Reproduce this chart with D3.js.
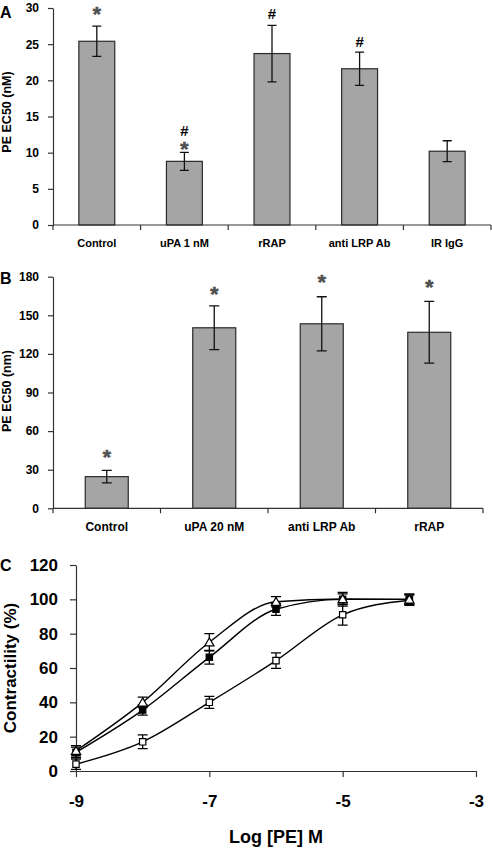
<!DOCTYPE html>
<html><head><meta charset="utf-8">
<script src="https://cdn.jsdelivr.net/npm/d3@7"></script>
<style>
body{margin:0;background:#fff;}
svg{display:block;}
text{font-family:"Liberation Sans",Arial,sans-serif;font-weight:bold;fill:#000;}
</style></head><body>
<svg id="c" width="492" height="848"></svg>
<script>
// Panel A
const catsA = ["Control","uPA 1 nM","rRAP","anti LRP Ab","IR IgG"];
const valsA = [25.4, 8.8, 23.7, 21.6, 10.2];
const errA  = [2.1, 1.25, 3.9, 2.3, 1.45];
const annA  = [[{t:"*",v:30.0}],[{t:"#",v:13.0},{t:"*",v:11.2}],[{t:"#",v:29.3}],[{t:"#",v:25.4}],[]];
const ticksA = [0,5,10,15,20,25,30];
// Panel B
const catsB = ["Control","uPA 20 nM","anti LRP Ab","rRAP"];
const valsB = [24.6, 140.3, 143.4, 136.8];
const errB  = [4.9, 17, 21, 24];
const annB  = [[{t:"*",v:44.5}],[{t:"*",v:171}],[{t:"*",v:180}],[{t:"*",v:176}]];
const ticksB = [0,30,60,90,120,150,180];
// Panel C
const logPE = [-9,-8,-7,-6,-5,-4];
const triVals = [11.8, 40, 75, 98.6, 100.2, 100];
const triErr  = [3, 3, 5, 3, 3, 3];
const fsqVals = [10.9, 35.5, 66.2, 94.2, 100, 100];
const fsqErr  = [3, 3, 4, 3.5, 4, 3];
const osqVals = [4, 17, 40, 64.3, 91, 99.5];
const osqErr  = [3, 4, 3.5, 4.5, 6, 3];
const ticksCx = [-9,-7,-5,-3];
const ticksCy = [0,20,40,60,80,100,120];

const svg = d3.select("#c");
const axisCol = "#333";

function barPanel(o){
  const g = svg.append("g");
  const x = d3.scaleBand().domain(o.cats).range([o.x0,o.x1]).paddingInner(0).paddingOuter(0);
  const y = d3.scaleLinear().domain([0,o.max]).range([o.yb,o.yt]);
  const bw = x.bandwidth()*o.bwFrac;
  g.selectAll("rect.bar").data(o.cats).join("rect")
    .attr("x",d=>x(d)+(x.bandwidth()-bw)/2).attr("width",bw)
    .attr("y",(d,i)=>y(o.vals[i])).attr("height",(d,i)=>y(0)-y(o.vals[i]))
    .attr("fill","#a5a5a5").attr("stroke","#2a2a2a").attr("stroke-width",1.2);
  o.cats.forEach((c,i)=>{
    const cx = x(c)+x.bandwidth()/2;
    const t = y(o.vals[i]+o.errs[i]), b = y(o.vals[i]-o.errs[i]);
    const cw = o.cap;
    g.append("path").attr("d",`M${cx},${t}V${b}M${cx-cw},${t}H${cx+cw}M${cx-cw},${b}H${cx+cw}`)
      .attr("stroke","#111").attr("stroke-width",1.3).attr("fill","none");
    o.ann[i].forEach(a=>{
      const isStar = a.t==="*";
      g.append("text").attr("x",cx).attr("y",y(a.v)+(isStar?o.starDy:0))
        .attr("text-anchor","middle").attr("dominant-baseline","central")
        .style("font-size",isStar?o.starSize+"px":o.hashSize+"px")
        .style("fill",isStar?"#505050":"#000")
        .style("stroke",isStar?"#505050":"none").style("stroke-width",isStar?0.6:0)
        .text(a.t);
    });
  });
  const ya = g.append("g").attr("transform",`translate(${o.x0},0)`)
    .call(d3.axisLeft(y).tickValues(o.ticks).tickSize(5).tickPadding(o.tickPad).tickSizeOuter(0));
  ya.select(".domain").attr("stroke",axisCol).attr("stroke-width",1.2);
  ya.selectAll(".tick line").attr("stroke",axisCol).attr("stroke-width",1.2);
  ya.selectAll(".tick text").style("font-size",o.tickFs+"px").style("font-family","Liberation Sans, Arial, sans-serif").style("font-weight","bold").attr("fill","#000");
  g.append("line").attr("x1",o.x0).attr("x2",o.x1).attr("y1",y(0)).attr("y2",y(0)).attr("stroke",axisCol).attr("stroke-width",1.2);
  const bounds = o.cats.map(c=>x(c)).concat([o.x1]);
  g.selectAll("line.bt").data(bounds).join("line").attr("x1",d=>d).attr("x2",d=>d)
    .attr("y1",y(0)).attr("y2",y(0)+5).attr("stroke",axisCol).attr("stroke-width",1.2);
  g.selectAll("text.cat").data(o.cats).join("text")
    .attr("x",d=>x(d)+x.bandwidth()/2).attr("y",o.catY)
    .attr("text-anchor","middle").attr("dominant-baseline","central")
    .style("font-size",o.catFs+"px").text(d=>d);
  g.append("text").attr("transform",`translate(${o.ylx},${o.yly}) rotate(-90)`)
    .attr("text-anchor","middle").attr("dominant-baseline","central")
    .style("font-size",o.ylFs+"px").text(o.ylabel);
  g.append("text").attr("x",0).attr("y",o.letterY).attr("dominant-baseline","central")
    .style("font-size","16px").text(o.letter);
}

barPanel({cats:catsA, vals:valsA, errs:errA, ann:annA, ticks:ticksA, max:30,
  x0:53, x1:491, yb:225, yt:8, bwFrac:0.41, cap:4.5, starSize:21, starDy:5, hashSize:15,
  tickFs:12, tickPad:9, catFs:11, catY:243, ylx:7, yly:112, ylFs:12.5, ylabel:"PE EC50 (nM)",
  letter:"A", letterY:12});

barPanel({cats:catsB, vals:valsB, errs:errB, ann:annB, ticks:ticksB, max:180,
  x0:53, x1:483, yb:508.3, yt:276.7, bwFrac:0.40, cap:5, starSize:21, starDy:5, hashSize:15,
  tickFs:12, tickPad:9, catFs:12, catY:527, ylx:7, yly:391, ylFs:12.5, ylabel:"PE EC50 (nm)",
  letter:"B", letterY:278});

// Panel C
(function(){
  const g = svg.append("g");
  const x = d3.scaleLinear().domain([-9,-3]).range([76,476]);
  const y = d3.scaleLinear().domain([0,120]).range([771,565]);
  const ya = g.append("g").attr("transform","translate(76,0)")
    .call(d3.axisLeft(y).tickValues(ticksCy).tickSize(6).tickPadding(12).tickSizeOuter(0));
  ya.select(".domain").attr("stroke",axisCol).attr("stroke-width",1.2);
  ya.selectAll(".tick line").attr("stroke",axisCol).attr("stroke-width",1.2);
  ya.selectAll(".tick text").style("font-size","17px").style("font-family","Liberation Sans, Arial, sans-serif").style("font-weight","bold").attr("fill","#000");
  const xa = g.append("g").attr("transform","translate(0,771)")
    .call(d3.axisBottom(x).tickValues(ticksCx).tickSize(6).tickPadding(18).tickSizeOuter(0).tickFormat(d=>String(d)));
  xa.select(".domain").attr("stroke",axisCol).attr("stroke-width",1.2);
  xa.selectAll(".tick line").attr("stroke",axisCol).attr("stroke-width",1.2);
  xa.selectAll(".tick text").style("font-size","17px").style("font-family","Liberation Sans, Arial, sans-serif").style("font-weight","bold").attr("fill","#000");

  const series = [
    {vals:osqVals, errs:osqErr, type:"osq"},
    {vals:fsqVals, errs:fsqErr, type:"fsq"},
    {vals:triVals, errs:triErr, type:"tri"}
  ];
  const line = d3.line().x((d,i)=>x(logPE[i])).y(d=>y(d)).curve(d3.curveMonotoneX);
  series.forEach(s=>{
    g.append("path").attr("d",line(s.vals)).attr("fill","none").attr("stroke","#000").attr("stroke-width",1.4);
  });
  series.forEach(s=>{
    s.vals.forEach((v,i)=>{
      const cx = x(logPE[i]), t = y(v+s.errs[i]), b = y(v-s.errs[i]);
      g.append("path").attr("d",`M${cx},${t}V${b}M${cx-5},${t}H${cx+5}M${cx-5},${b}H${cx+5}`)
        .attr("stroke","#000").attr("stroke-width",1.3).attr("fill","none");
    });
  });
  series.forEach(s=>{
    const sym = s.type==="tri" ? d3.symbol(d3.symbolTriangle,38) : d3.symbol(d3.symbolSquare,40);
    g.selectAll(null).data(s.vals).join("path")
      .attr("transform",(d,i)=>`translate(${x(logPE[i])},${y(d)+(s.type==="tri"?1:0)})`)
      .attr("d",sym)
      .attr("fill",s.type==="fsq"?"#000":"#fff").attr("stroke","#000").attr("stroke-width",1.2);
  });
  g.append("text").attr("transform","translate(10,668) rotate(-90)")
    .attr("text-anchor","middle").attr("dominant-baseline","central")
    .style("font-size","17px").text("Contractility (%)");
  g.append("text").attr("x",276).attr("y",837).attr("text-anchor","middle").attr("dominant-baseline","central")
    .style("font-size","18px").text("Log [PE] M");
  g.append("text").attr("x",0).attr("y",565).attr("dominant-baseline","central")
    .style("font-size","16px").text("C");
})();
</script></body></html>
